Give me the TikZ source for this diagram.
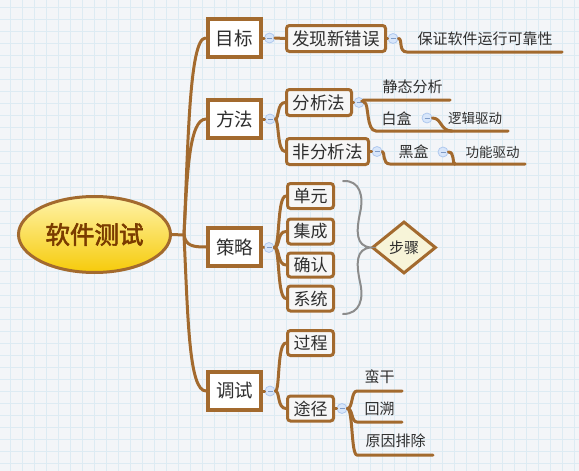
\documentclass[tikz,border=0pt]{standalone}
\usepackage{fontspec}
\setmainfont{Noto Sans CJK SC}
\newfontfamily\rootfont[FakeBold=2.5]{Noto Sans CJK SC}
\usetikzlibrary{shapes.geometric}
\definecolor{brn}{HTML}{A36A2E}
\definecolor{txt}{HTML}{2E2E2E}
\definecolor{rtxt}{HTML}{7A3B00}
\definecolor{bg}{HTML}{F3F5F8}
\definecolor{gridc}{HTML}{DDEBF3}
\definecolor{cf}{HTML}{D8E6FA}
\definecolor{cb}{HTML}{AFC8EE}
\definecolor{cm}{HTML}{7F9CC8}
\definecolor{boxf}{HTML}{F6F6F6}
\definecolor{dfill}{HTML}{F7F4D8}
\definecolor{brace}{HTML}{8C8C8C}
\definecolor{rtop}{HTML}{FFF3AA}
\definecolor{rbot}{HTML}{F6CB0A}
\begin{document}
\begin{tikzpicture}[x=1pt,y=-1pt,
  l1/.style={draw=brn, line width=4pt, fill=white, minimum width=53pt, minimum height=38pt, inner sep=0pt, font=\fontsize{18.5}{20}\selectfont, text=txt},
  l2/.style={draw=brn, line width=3pt, rounded corners=3pt, fill=boxf, minimum height=26pt, inner sep=0pt, font=\fontsize{17.5}{19}\selectfont, text=txt},
  leaf/.style={inner sep=0pt, font=\fontsize{15}{17}\selectfont, text=txt},
  small/.style={inner sep=0pt, font=\fontsize{13.5}{15}\selectfont, text=txt},
  conn/.style={draw=brn, line width=3pt, line cap=round},
  gridline/.style={draw=gridc, line width=0.7pt},
  coll/.style={circle, draw=cb, fill=cf, line width=0.8pt, minimum size=10pt, inner sep=0pt,
    path picture={\draw[draw=cm, line width=0.8pt] ([xshift=-2.5pt]path picture bounding box.center) -- ([xshift=2.5pt]path picture bounding box.center);}}
]
\useasboundingbox (0,0) rectangle (579,471);
\fill[bg] (0,0) rectangle (579,471);
\foreach \gx in {10,22,...,578} \draw[gridline] (\gx,0) -- (\gx,471);
\foreach \gy in {7,19,...,470} \draw[gridline] (0,\gy) -- (579,\gy);

% root
\node[ellipse, draw=brn, line width=3pt, minimum width=152pt, minimum height=76pt, inner sep=0pt,
  top color=rtop, bottom color=rbot,
  font=\rootfont\fontsize{24.5}{26}\selectfont, text=rtxt] (root) at (94.5,234.5) {软件测试};
\coordinate (hub) at (184,235);

% level 1
\node[l1] (mb) at (234,38) {目标};
\node[l1] (ff) at (234.5,119) {方法};
\node[l1] (cl) at (234.5,247) {策略};
\node[l1] (ts) at (234.5,391) {调试};

% level 2 boxes
\node[l2, minimum width=99pt] (fx) at (336,38.5) {发现新错误};
\node[l2, minimum width=65pt] (fxf) at (319,102.5) {分析法};
\node[l2, minimum width=82pt] (ffx) at (327.5,151.5) {非分析法};
\node[l2, minimum width=46pt, minimum height=25pt, font=\fontsize{17}{19}\selectfont] (dy) at (310.5,196) {单元};
\node[l2, minimum width=46pt, minimum height=25pt, font=\fontsize{17}{19}\selectfont] (jc) at (310.5,231.5) {集成};
\node[l2, minimum width=46pt, minimum height=24pt, font=\fontsize{17}{19}\selectfont] (qr) at (310.5,265) {确认};
\node[l2, minimum width=46pt, minimum height=25pt, font=\fontsize{17}{19}\selectfont] (xt) at (310.5,298.5) {系统};
\node[l2, minimum width=46pt, minimum height=25pt, font=\fontsize{17}{19}\selectfont] (gc) at (310.5,343) {过程};
\node[l2, minimum width=46pt, minimum height=25pt, font=\fontsize{17}{19}\selectfont] (tj) at (310.5,408.5) {途径};

% collapse circles
\node[coll] (c1) at (269.5,38) {};
\node[coll] (cfx) at (393,38.5) {};
\node[coll] (c2) at (270,119) {};
\node[coll] (cfxf) at (359,102.5) {};
\node[coll] (cffx) at (377,151.5) {};
\node[coll] (cbh) at (427,118) {};
\node[coll] (chh) at (443,152) {};
\node[coll] (c3) at (269,247.5) {};
\node[coll] (c4) at (270,391) {};
\node[coll] (ctj) at (342,408.5) {};

% leaves
\node[leaf] (bz) at (485,39) {保证软件运行可靠性};
\node[leaf] (jt) at (412.5,87) {静态分析};
\node[leaf] (bh) at (396.5,119) {白盒};
\node[small] (lj) at (475,118) {逻辑驱动};
\node[leaf] (hh) at (413.5,152) {黑盒};
\node[small] (gn) at (492.5,152) {功能驱动};
\node[leaf] (mg) at (379.5,377) {蛮干};
\node[leaf] (hs) at (379.5,409) {回溯};
\node[leaf] (yy) at (395.5,441) {原因排除};

\coordinate (bzL) at (407,52);  \coordinate (bzR) at (562,52);
\coordinate (jtL) at (364,100); \coordinate (jtR) at (450,100);
\coordinate (bhL) at (376,131); \coordinate (bhR) at (452,131);
\coordinate (ljR) at (508,131);
\coordinate (hhL) at (390,164); \coordinate (hhR) at (455,164);
\coordinate (gnR) at (525,164);
\coordinate (mgL) at (357,391); \coordinate (mgR) at (402,391);
\coordinate (hsL) at (357,422); \coordinate (hsR) at (402,422);
\coordinate (yyL) at (357,455); \coordinate (yyR) at (433,455);

% step diamond and brace
\node[diamond, draw=brn, line width=3pt, fill=dfill, minimum width=64pt, minimum height=52pt, inner sep=0pt,
  font=\fontsize{15}{17}\selectfont, text=txt] (bz2) at (404,247.5) {步骤};
\draw[brace, line width=2pt, line cap=round]
  (343,181) .. controls (360,180) and (364,196) .. (360,213)
  .. controls (356,232) and (356,246) .. (bz2.west)
  .. controls (356,249) and (356,263) .. (360,282)
  .. controls (364,299) and (360,314) .. (343,314);

% connectors from root
\draw[conn] (root.east) -- (hub);
\draw[conn] (hub) .. controls (188,150) and (189,38) .. (mb.west);
\draw[conn] (hub) .. controls (187,175) and (189,119) .. (ff.west);
\draw[conn] (hub) .. controls (186,246) and (193,247) .. (cl.west);
\draw[conn] (hub) .. controls (188,320) and (189,391) .. (ts.west);

% box to circles
\draw[conn] (mb.east) -- (c1.west);
\draw[conn] (ff.east) -- (c2.west);
\draw[conn] (cl.east) -- (c3.west);
\draw[conn] (ts.east) -- (c4.west);
\draw[conn] (fx.east) -- (cfx.west);
\draw[conn] (fxf.east) -- (cfxf.west);
\draw[conn] (ffx.east) -- (cffx.west);
\draw[conn] (tj.east) -- (ctj.west);

% circles to children
\draw[conn] (c1.east) -- (fx.west);
\draw[conn] (c2.east) .. controls (279,119) and (277,102.5) .. (fxf.west);
\draw[conn] (c2.east) .. controls (279,119) and (277,151.5) .. (ffx.west);
\draw[conn] (c3.east) .. controls (280,247.5) and (277,196) .. (dy.west);
\draw[conn] (c3.east) .. controls (280,247.5) and (277,231.5) .. (jc.west);
\draw[conn] (c3.east) .. controls (280,247.5) and (277,265) .. (qr.west);
\draw[conn] (c3.east) .. controls (280,247.5) and (277,298.5) .. (xt.west);
\draw[conn] (c4.east) .. controls (280,391) and (277,343) .. (gc.west);
\draw[conn] (c4.east) .. controls (280,391) and (277,408.5) .. (tj.west);

\draw[conn] (cfx.east) .. controls (403,38.5) and (398,52) .. (bzL) -- (bzR);
\draw[conn] (cfxf.east) .. controls (362,102) and (362,100) .. (jtL) -- (jtR);
\draw[conn] (cfxf.east) .. controls (369,102.5) and (366,131) .. (bhL) -- (bhR);
\draw[conn] (cbh.east) .. controls (442,118) and (440,131) .. (bhR) -- (ljR);
\draw[conn] (cffx.east) .. controls (385,151.5) and (382,164) .. (hhL) -- (hhR);
\draw[conn] (chh.east) .. controls (455,152) and (452,164) .. (hhR) -- (gnR);
\draw[conn] (ctj.east) .. controls (353,408.5) and (351,391) .. (mgL) -- (mgR);
\draw[conn] (ctj.east) .. controls (353,408.5) and (351,422) .. (hsL) -- (hsR);
\draw[conn] (ctj.east) .. controls (353,408.5) and (351,455) .. (yyL) -- (yyR);
\end{tikzpicture}
\end{document}
